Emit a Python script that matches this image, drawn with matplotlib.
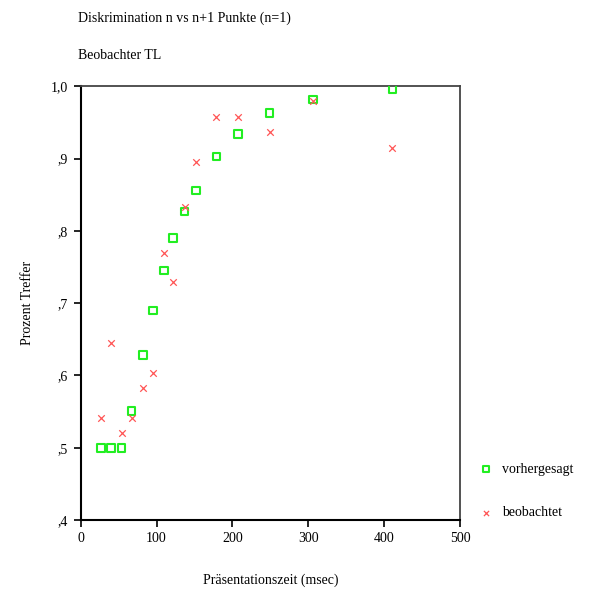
import numpy as np
import matplotlib
matplotlib.use("Agg")
import matplotlib.pyplot as plt
from matplotlib.ticker import FixedLocator, FixedFormatter

plt.rcParams['font.family'] = ['Liberation Serif', 'DejaVu Serif']

# Presentation time (msec) and hit rates, predicted vs observed
zeit = [27, 40, 54, 67, 82, 95, 110, 122, 137, 152, 179, 207, 249, 306, 411]
vorhergesagt = [0.500, 0.500, 0.500, 0.551, 0.628, 0.690, 0.745, 0.790, 0.827,
                0.856, 0.903, 0.934, 0.963, 0.982, 0.996]
beobachtet = [0.541, 0.645, 0.521, 0.541, 0.583, 0.603, 0.769, 0.729, 0.833,
              0.895, 0.958, 0.958, 0.937, 0.980, 0.915]

y_ticks = [0.4, 0.5, 0.6, 0.7, 0.8, 0.9, 1.0]
y_labels = [",4", ",5", ",6", ",7", ",8", ",9", "1,0"]
x_ticks = [0, 100, 200, 300, 400, 500]

fig = plt.figure(figsize=(5.97, 5.97), dpi=100)
ax = fig.add_axes([0.1352, 0.129, 0.6353, 0.7264])

ax.scatter(zeit, vorhergesagt, marker="s", s=30, facecolors="none",
           edgecolors="#22ee22", linewidths=1.5, label="vorhergesagt", zorder=3)
ax.scatter(zeit, beobachtet, marker="x", s=22, color="#ff5555",
           linewidths=0.9, label="beobachtet", zorder=4)

ax.set_xlim(0, 500)
ax.set_ylim(0.4, 1.0)
ax.xaxis.set_major_locator(FixedLocator(x_ticks))
ax.yaxis.set_major_locator(FixedLocator(y_ticks))
ax.yaxis.set_major_formatter(FixedFormatter(y_labels))
ax.tick_params(direction="out", length=5, width=1.2, labelsize=10, pad=4)

ax.spines["left"].set_linewidth(1.5)
ax.spines["bottom"].set_linewidth(1.5)
ax.spines["top"].set_color("#444444")
ax.spines["right"].set_color("#444444")
ax.spines["top"].set_linewidth(1.3)
ax.spines["right"].set_linewidth(1.3)

ax.set_xlabel("Präsentationszeit (msec)", fontsize=10, labelpad=20)
ax.set_ylabel("Prozent Treffer", fontsize=10, labelpad=12)

fig.text(0.131, 0.969, "Diskrimination n vs n+1 Punkte (n=1)", fontsize=10,
         va="center", ha="left")
fig.text(0.131, 0.907, "Beobachter TL", fontsize=10, va="center", ha="left")

ax.legend(loc="center left", bbox_to_anchor=(1.0, 0.067), frameon=False,
          fontsize=10, handletextpad=0.1, labelspacing=2.2, markerscale=0.8)

fig.savefig("out.png", dpi=100, facecolor="white")
